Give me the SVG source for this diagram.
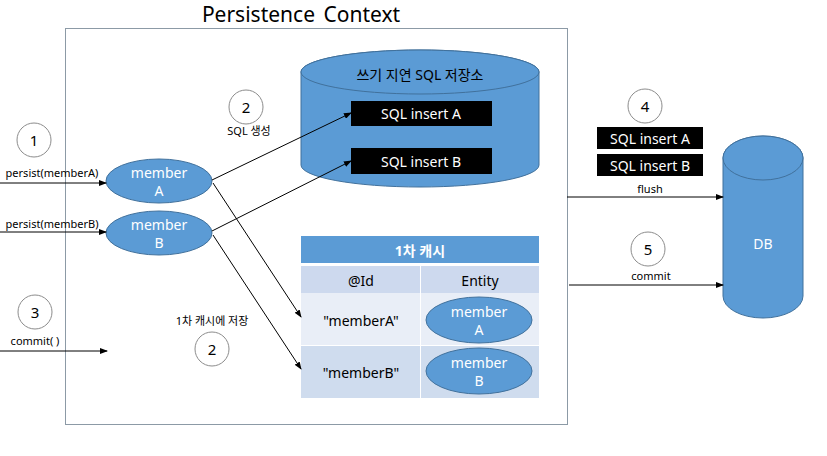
<svg xmlns="http://www.w3.org/2000/svg" width="827" height="456" viewBox="0 0 827 456">
<defs>
<marker id="ah" markerWidth="8" markerHeight="6" refX="7" refY="3" orient="auto" markerUnits="userSpaceOnUse">
<path d="M0,0 L8,3 L0,6 Z" fill="#000"/>
</marker>
<style>
text{font-family:"Noto Sans","Noto Sans CJK KR",sans-serif;text-anchor:middle;dominant-baseline:central}
.blue{fill:#5b9bd5}
.ell{fill:#5b9bd5;stroke:#41719c;stroke-width:1}
.wt{fill:#fff;font-size:14px}
.num{fill:#fff;stroke:#8c8c8c;stroke-width:1}
.nt{font-size:15px;fill:#000}
.lbl{font-size:11px;fill:#000}
.blk{fill:#000}
.bt{fill:#fff;font-size:14px}
.conn line{stroke:#000;stroke-width:1;marker-end:url(#ah)}
</style>
</defs>
<rect width="827" height="456" fill="#fff"/>
<g id="context">
<rect x="65.5" y="28.5" width="502" height="396" fill="none" stroke="#8c9aa6" stroke-width="1"/>
<text x="301" y="14" font-size="21" fill="#000" word-spacing="3">Persistence Context</text>
</g>
<g id="write-store">
<path class="blue" d="M301,72 L301,165 A119,22 0 0 0 539,165 L539,72 A119,22 0 0 0 301,72 Z" stroke="#41719c" stroke-width="1"/>
<ellipse cx="420" cy="72" rx="119" ry="22" fill="#5b9bd5" stroke="#41719c" stroke-width="1"/>
<text x="420" y="74" font-size="14" fill="#000">쓰기 지연 SQL 저장소</text>
</g>
<g id="sqlA"><rect class="blk" x="351" y="101" width="141" height="25"/><text class="bt" x="421" y="113">SQL insert A</text></g>
<g id="sqlB"><rect class="blk" x="351" y="148" width="141" height="26"/><text class="bt" x="421" y="161">SQL insert B</text></g>
<g id="memberA"><ellipse class="ell" cx="159" cy="181" rx="53" ry="22"/><text class="wt" x="159" y="172">member</text><text class="wt" x="159" y="190">A</text></g>
<g id="memberB"><ellipse class="ell" cx="159" cy="233" rx="53" ry="22"/><text class="wt" x="159" y="224">member</text><text class="wt" x="159" y="242">B</text></g>
<g id="step1"><circle class="num" cx="34" cy="140" r="17"/><text class="nt" x="34" y="140">1</text><text class="lbl" x="52" y="172">persist(memberA)</text></g>
<text class="lbl" x="52" y="223">persist(memberB)</text>
<g id="step2a"><circle class="num" cx="246" cy="107" r="17"/><text class="nt" x="246" y="107">2</text><text class="lbl" x="249" y="130">SQL 생성</text></g>
<g id="step3"><circle class="num" cx="35" cy="312" r="17"/><text class="nt" x="35" y="312">3</text><text class="lbl" x="35" y="340">commit( )</text></g>
<g id="step2b"><text class="lbl" x="212" y="320">1차 캐시에 저장</text><circle class="num" cx="212" cy="349" r="17"/><text class="nt" x="212" y="349">2</text></g>
<g id="cache">
<rect x="301" y="236" width="238" height="27" fill="#5b9bd5"/>
<text x="420" y="250" font-size="14" font-weight="bold" fill="#fff">1차 캐시</text>
<rect x="301" y="266" width="119" height="27" fill="#cdd9ee"/>
<rect x="421" y="266" width="118" height="27" fill="#cdd9ee"/>
<rect x="301" y="293" width="119" height="52" fill="#e9eef7"/>
<rect x="421" y="293" width="118" height="52" fill="#e9eef7"/>
<rect x="301" y="346" width="119" height="52" fill="#cfdcee"/>
<rect x="421" y="346" width="118" height="52" fill="#cfdcee"/>
<text x="361" y="280" font-size="14" fill="#000">@Id</text>
<text x="480" y="280" font-size="14" fill="#000">Entity</text>
<text x="361" y="320" font-size="14" fill="#000">"memberA"</text>
<text x="361" y="372" font-size="14" fill="#000">"memberB"</text>
</g>
<g id="cacheA"><ellipse class="ell" cx="479" cy="320" rx="53" ry="23"/><text class="wt" x="479" y="311">member</text><text class="wt" x="479" y="329">A</text></g>
<g id="cacheB"><ellipse class="ell" cx="479" cy="371" rx="53" ry="23"/><text class="wt" x="479" y="362">member</text><text class="wt" x="479" y="380">B</text></g>
<g id="step4"><circle class="num" cx="645" cy="106" r="17"/><text class="nt" x="645" y="106">4</text>
<rect class="blk" x="597" y="127" width="106" height="22"/><text class="bt" x="650" y="138">SQL insert A</text>
<rect class="blk" x="597" y="154" width="106" height="22"/><text class="bt" x="650" y="165">SQL insert B</text>
<text class="lbl" x="650" y="188">flush</text></g>
<g id="step5"><circle class="num" cx="648" cy="249" r="17"/><text class="nt" x="648" y="249">5</text><text class="lbl" x="651" y="275">commit</text></g>
<g id="db">
<path class="blue" d="M723,158 L723,296 A40,22 0 0 0 803,296 L803,158 A40,22 0 0 0 723,158 Z" stroke="#41719c" stroke-width="1"/>
<ellipse cx="763" cy="158" rx="40" ry="22" fill="#5b9bd5" stroke="#41719c" stroke-width="1"/>
<text x="763" y="243" font-size="14" fill="#fff">DB</text>
</g>
<g id="connectors" class="conn">
<line x1="0" y1="183" x2="106" y2="183"/>
<line x1="0" y1="232" x2="106" y2="232"/>
<line x1="0" y1="351" x2="107" y2="351"/>
<line x1="212" y1="180" x2="351" y2="113"/>
<line x1="212" y1="231" x2="351" y2="161"/>
<line x1="213" y1="183" x2="301" y2="317"/>
<line x1="213" y1="235" x2="301" y2="369"/>
<line x1="567" y1="197" x2="723" y2="197"/>
<line x1="569" y1="285" x2="723" y2="285"/>
</g>
</svg>
